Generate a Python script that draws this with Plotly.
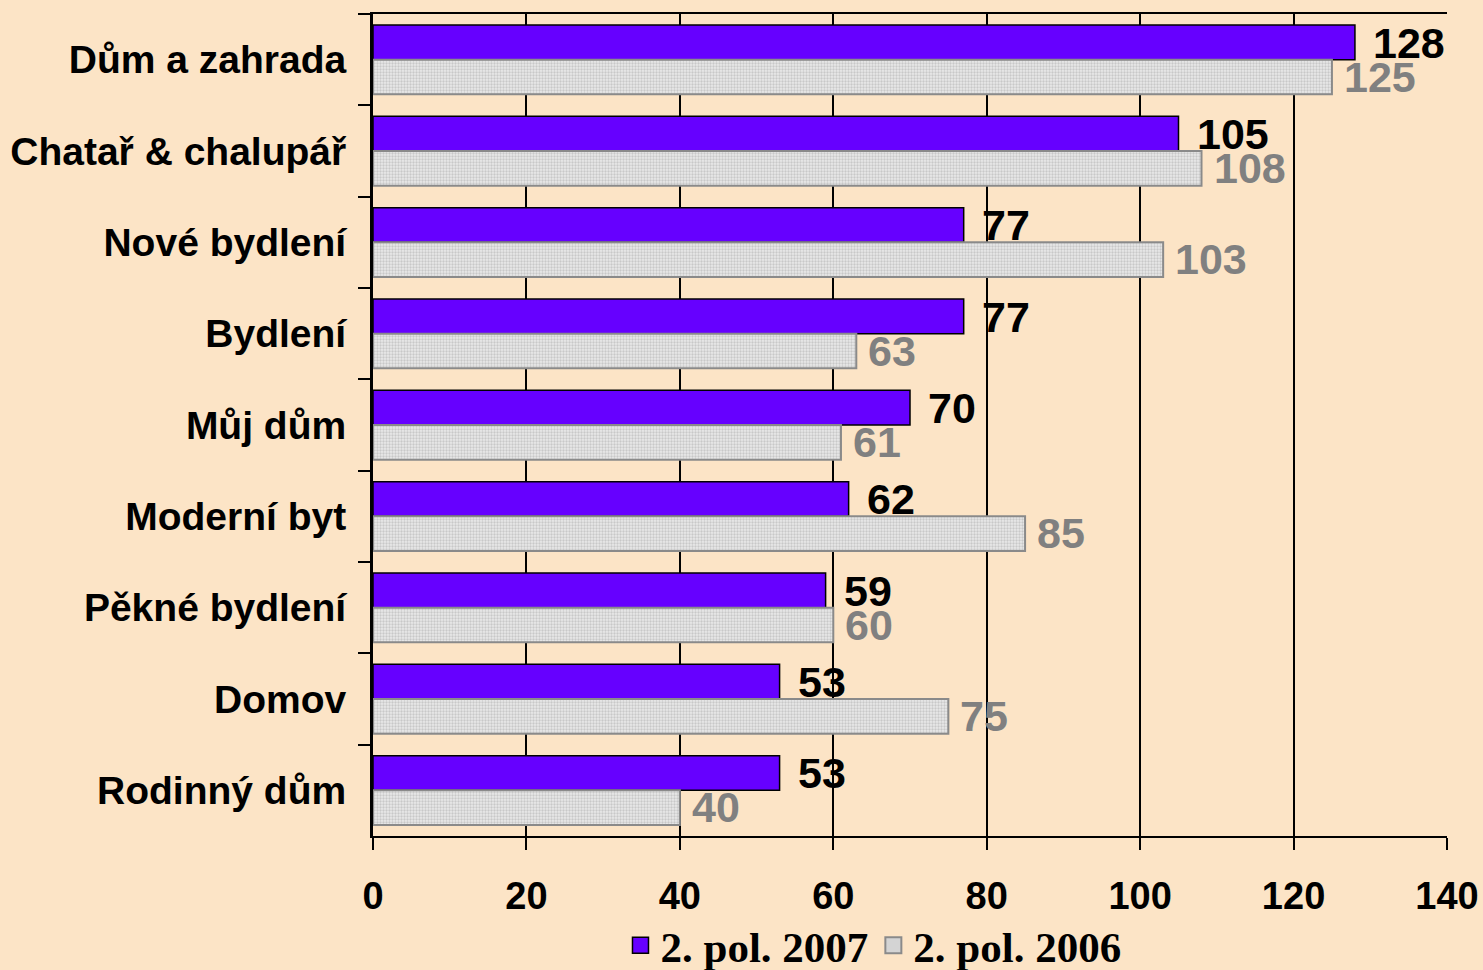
import plotly.graph_objects as go

categories = ["Dům a zahrada", "Chatař & chalupář", "Nové bydlení", "Bydlení", "Můj dům",
              "Moderní byt", "Pěkné bydlení", "Domov", "Rodinný dům"]
values_2007 = [128, 105, 77, 77, 70, 62, 59, 53, 53]
values_2006 = [125, 108, 103, 63, 61, 85, 60, 75, 40]
series_names = ["2. pol. 2007", "2. pol. 2006"]
x_ticks = [0, 20, 40, 60, 80, 100, 120, 140]

BG = "#FCE4C6"
PURPLE = "#6600FF"
GRAY_TXT = "#808080"
SANS = "Liberation Sans, Arial, sans-serif"
SERIF = "Liberation Serif, Times New Roman, serif"

fig = go.Figure()
fig.add_trace(go.Bar(
    y=categories, x=values_2007, orientation="h", name=series_names[0], showlegend=False,
    marker=dict(color=PURPLE, line=dict(color="#000000", width=1.5)),
))
fig.add_trace(go.Bar(
    y=categories, x=values_2006, orientation="h", name=series_names[1], showlegend=False,
    marker=dict(color="#E4E4E4", line=dict(color="#8A8A8A", width=2),
                pattern=dict(shape=".", fgcolor="#A8A8A8", bgcolor="#E8E8E8",
                             size=3, solidity=0.45)),
))
# legend entries (larger square swatches like the reference)
fig.add_trace(go.Scatter(
    x=[None], y=[None], mode="markers", name=series_names[0],
    marker=dict(symbol="square", size=22, color=PURPLE, line=dict(color="#000000", width=1.5)),
))
fig.add_trace(go.Scatter(
    x=[None], y=[None], mode="markers", name=series_names[1],
    marker=dict(symbol="square", size=22, color="#D4D4D4", line=dict(color="#8A8A8A", width=2)),
))

annotations = []
for cat, v7, v6 in zip(categories, values_2007, values_2006):
    annotations.append(dict(x=v7, y=cat, text=str(v7), showarrow=False, xanchor="left",
                            xshift=16, yshift=17,
                            font=dict(family=SANS, size=43, color="#000000", weight="bold")))
    annotations.append(dict(x=v6, y=cat, text=str(v6), showarrow=False, xanchor="left",
                            xshift=10, yshift=-17,
                            font=dict(family=SANS, size=43, color=GRAY_TXT, weight="bold")))

fig.update_layout(
    width=1483, height=970,
    paper_bgcolor=BG, plot_bgcolor=BG,
    margin=dict(l=373, r=36, t=14, b=134, autoexpand=False),
    barmode="group", bargap=0.24, bargroupgap=0,
    showlegend=True,
    legend=dict(orientation="h", x=0.466, xanchor="center", y=-0.133, yanchor="middle",
                font=dict(family=SERIF, size=43, color="#000000", weight="bold"),
                bgcolor="rgba(0,0,0,0)", itemwidth=30, tracegroupgap=0),
    annotations=annotations,
)
fig.update_xaxes(
    range=[0, 140], tickvals=x_ticks, ticktext=[str(t) for t in x_ticks],
    showgrid=True, gridcolor="#000000", gridwidth=2,
    showline=True, linecolor="#000000", linewidth=2, mirror=True,
    ticks="outside", ticklen=12, tickwidth=2, tickcolor="#000000",
    tickfont=dict(family=SANS, size=38, color="#000000", weight="bold"),
    ticklabelstandoff=13, automargin=False,
    zeroline=False, fixedrange=True,
)
fig.update_yaxes(
    autorange="reversed", tickson="boundaries",
    showline=True, linecolor="#000000", linewidth=3,
    ticks="outside", ticklen=12, tickwidth=2, tickcolor="#000000",
    tickfont=dict(family=SANS, size=39, color="#000000", weight="bold"),
    showgrid=False, fixedrange=True, ticklabelstandoff=16, automargin=False,
)

fig.write_html("out.html", config={"displayModeBar": False}, post_script=(
    "document.body.style.margin='0';"
    "document.body.style.background='" + BG + "';"
))
